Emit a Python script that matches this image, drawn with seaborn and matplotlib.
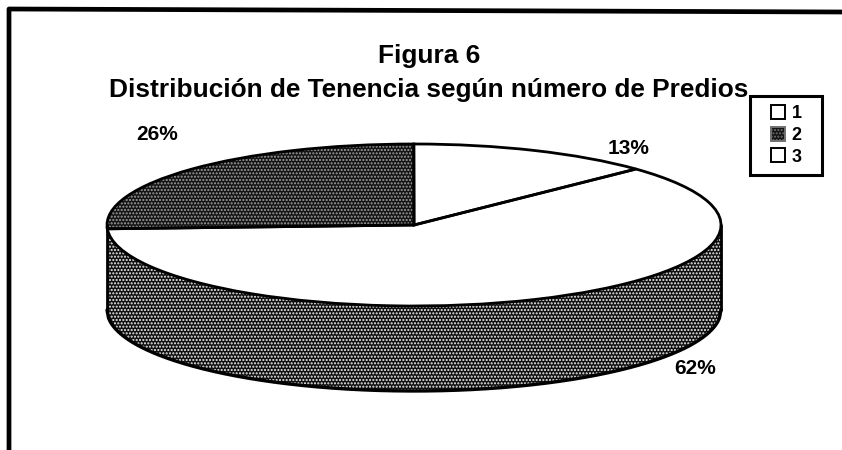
import numpy as np
import matplotlib
matplotlib.use("Agg")
import matplotlib.pyplot as plt
import seaborn as sns
from matplotlib.lines import Line2D
from matplotlib.patches import Rectangle

categories = ["1", "2", "3"]
values = [62, 26, 13]
slice_colors = ["white", "#141414", "white"]
title_lines = ["Figura 6", "Distribución de Tenencia según número de Predios"]

W, H = 842, 450
CX, CY, RX, RY = 414, 225, 307, 81
DEPTH = 85 / RY
START = 43.7


def px(x, y):
    # pixel position -> data position of the flattened pie
    return (x - CX) / RX, (CY - y) / RY


sns.set_theme(style="white")
plt.rcParams["font.family"] = ["Liberation Sans", "DejaVu Sans"]

fig = plt.figure(figsize=(W / 100, H / 100), dpi=100)
ax = fig.add_axes([0, 0, 1, 1])

# side wall of the pie, under the top face
xs = np.linspace(-1, 1, 400)
front = -np.sqrt(1 - xs**2)
ax.fill_between(xs, front - DEPTH, front, facecolor="#101010", edgecolor="#f0f0f0",
                hatch=".....", linewidth=0)
ax.plot(xs, front - DEPTH, color="black", lw=2.4)
ax.plot([-1, -1], [0, -DEPTH], color="black", lw=2)
ax.plot([1, 1], [0, -DEPTH], color="black", lw=2)

# top face
wedges, _ = ax.pie(values, colors=slice_colors, startangle=START, counterclock=False,
                   radius=1, wedgeprops=dict(linewidth=0))
wedges[1].set_hatch(".....")
wedges[1].set_edgecolor("#a0a0a0")
ax.pie(values, colors=slice_colors, startangle=START, counterclock=False, radius=1,
       wedgeprops=dict(fill=False, edgecolor="black", linewidth=2))

ax.set_aspect("auto")
ax.set_xlim(-CX / RX, (W - CX) / RX)
ax.set_ylim((CY - H) / RY, CY / RY)
ax.axis("off")

# percent labels
label_spots = [(695, 369), (157, 135), (629, 148)]
for v, (lx, ly) in zip(values, label_spots):
    ax.text(*px(lx, ly), f"{v}%", ha="center", va="center", fontsize=15,
            fontweight="bold", color="black")

fig.text(429 / W, 1 - 63 / H, title_lines[0], ha="center", va="baseline",
         fontsize=18.9, fontweight="bold", color="black")
fig.text(429 / W, 1 - 97 / H, title_lines[1], ha="center", va="baseline",
         fontsize=18.9, fontweight="bold", color="black")

handles = [Rectangle((0, 0), 1, 1, facecolor=c, edgecolor="black", lw=1.4) for c in slice_colors]
handles[1].set_hatch(".....")
handles[1].set_edgecolor("#707070")
ax.legend(handles, categories, loc="upper left",
          bbox_to_anchor=(771 / W, 1 - 105 / H), bbox_transform=fig.transFigure,
          prop=dict(weight="bold", size=13), labelcolor="black", frameon=False,
          handlelength=0.8, handleheight=0.8, handletextpad=0.35,
          labelspacing=0.25, borderpad=0, borderaxespad=0)
fig.add_artist(Rectangle((750 / W, 1 - 175 / H), 72 / W, 79 / H, fill=False,
                         edgecolor="black", lw=2.2, transform=fig.transFigure))

# frame of the scanned chart, open at the bottom and on the right
fig.add_artist(Line2D([9 / W, 9 / W, 1], [0, 1 - 9 / H, 1 - 12 / H],
                      color="black", lw=3.4, transform=fig.transFigure))

fig.savefig("out.png", dpi=100)
